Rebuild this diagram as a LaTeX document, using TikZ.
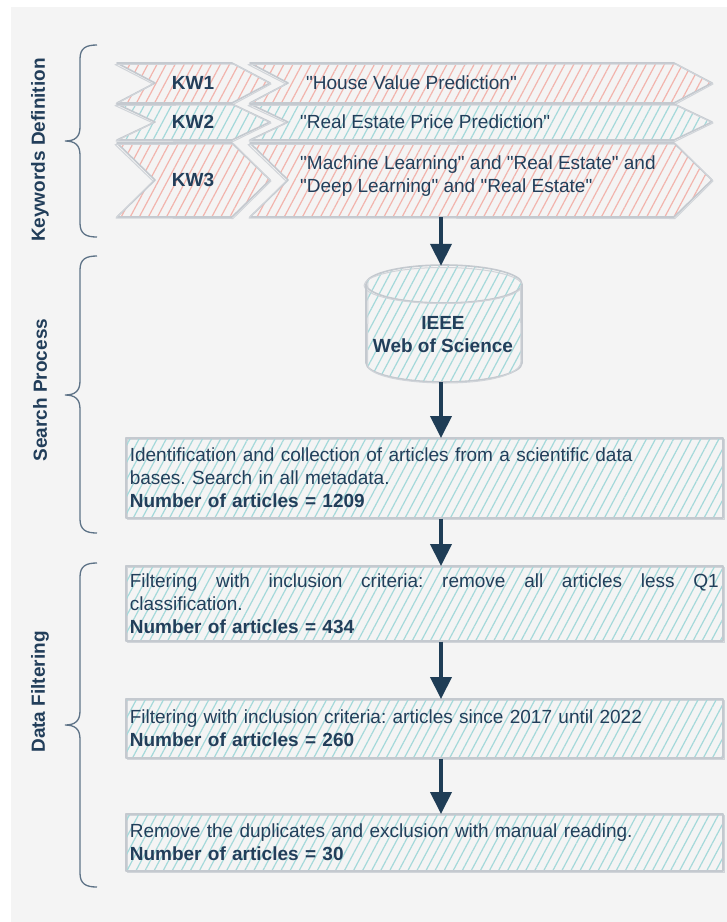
\documentclass[tikz,border=0pt]{standalone}
\usepackage{fontspec}
\setmainfont{Liberation Sans}
\usetikzlibrary{arrows.meta,patterns.meta}

\definecolor{bggray}{HTML}{F4F4F4}
\definecolor{outlinegray}{HTML}{C4C9CF}
\definecolor{hatchred}{HTML}{F2B4AD}
\definecolor{hatchteal}{HTML}{A4D9DA}
\definecolor{ink}{HTML}{223E5A}
\definecolor{arrowc}{HTML}{1F3D56}
\definecolor{bracec}{HTML}{5E7387}

\hyphenpenalty=10000
\exhyphenpenalty=10000
\frenchspacing
\newcommand\qq{\textquotedbl}

\tikzset{
  every node/.style={font=\fontsize{19}{23}\selectfont\frenchspacing, text=ink},
  redhatch/.style={pattern={Lines[angle=62,distance=8pt,line width=1.2pt]}, pattern color=hatchred},
  tealhatch/.style={pattern={Lines[angle=62,distance=8pt,line width=1.2pt]}, pattern color=hatchteal},
  sketchline/.style={draw=outlinegray, line width=1.6pt, line join=round},
  sketchline2/.style={draw=outlinegray!80, line width=1pt, line join=round},
  stepbox/.style={rectangle, tealhatch, sketchline, anchor=north west,
    minimum width=597pt, text width=589pt, inner xsep=4pt, inner ysep=2pt, align=left,
    preaction={draw=outlinegray!80, line width=1pt, transform canvas={xshift=1.3pt,yshift=-1.3pt}}},
  flow/.style={draw=arrowc, line width=4pt, -{Triangle[width=21pt,length=22pt]}, shorten >=-1pt},
  sectionlabel/.style={rotate=90, font=\fontsize{19}{23}\selectfont\bfseries},
  brace/.style={draw=bracec, line width=1.3pt},
}

% one arrow-like keyword band: style, left x, top-right x, top y, mid y, bottom y
\newcommand\kwpiece[6]{%
  \path[#1] (#2,#4) -- (#3,#4) -- ({#3+38},#5) -- (#3,#6) -- (#2,#6) -- ({#2+38},#5) -- cycle;
  \draw[sketchline] (#2,#4) -- (#3,#4) -- ({#3+38},#5) -- (#3,#6) -- (#2,#6) -- ({#2+38},#5) -- cycle;
  \draw[sketchline2] ({#2-2},{#4+1.5}) -- ({#3+2},{#4+1}) -- ({#3+39},{#5+1}) -- ({#3+1},{#6+1.5}) -- ({#2-1},{#6+1}) -- ({#2+36},{#5+1}) -- cycle;
}

% curly bracket on the left: top y, middle y, bottom y
\newcommand\sidebrace[3]{%
  \draw[brace] (97,#1) .. controls (86,#1) and (80,{#1+3}) .. (80,{#1+14})
    -- (80,{#2-14}) .. controls (80,{#2-4}) and (75,#2) .. (65,#2)
    .. controls (75,#2) and (80,{#2+4}) .. (80,{#2+14})
    -- (80,{#3-14}) .. controls (80,{#3-3}) and (86,#3) .. (97,#3);
}

\begin{document}
\begin{tikzpicture}[x=1pt,y=-1pt]
  \useasboundingbox (0,0) rectangle (727,922);
  \fill[white] (0,0) rectangle (727,922);
  \fill[bggray] (11,7) rectangle (727,922);

  % section brackets and labels
  \sidebrace{45}{141}{237}
  \sidebrace{256}{395}{533}
  \sidebrace{563}{725}{887}
  \node[sectionlabel] (lkw) at (40,150) {Keywords Definition};
  \node[sectionlabel] (lsp) at (40,390) {Search Process};
  \node[sectionlabel] (ldf) at (40,692) {Data Filtering};

  % keyword bands
  \kwpiece{redhatch}{117}{232}{63}{83}{103}
  \kwpiece{redhatch}{250}{674}{63}{83}{103}
  \kwpiece{tealhatch}{117}{232}{104}{122}{140}
  \kwpiece{tealhatch}{250}{674}{104}{122}{140}
  \kwpiece{redhatch}{117}{232}{143}{180}{217}
  \kwpiece{redhatch}{250}{674}{143}{180}{217}

  \node[font=\fontsize{19}{23}\selectfont\bfseries] (kw1) at (193,83) {KW1};
  \node[font=\fontsize{19}{23}\selectfont\bfseries] (kw2) at (193,122) {KW2};
  \node[font=\fontsize{19}{23}\selectfont\bfseries] (kw3) at (193,180) {KW3};
  \node[anchor=west, inner sep=0] (t1) at (306,83) {\qq House Value Prediction\qq};
  \node[anchor=west, inner sep=0] (t2) at (300,122) {\qq Real Estate Price Prediction\qq};
  \node[anchor=west, inner sep=0, align=left] (t3) at (300,176)
    {\qq Machine Learning\qq{} and \qq Real Estate\qq{} and\\\qq Deep Learning\qq{} and \qq Real Estate\qq};
  \coordinate (kw3bot) at (441,217);
  \coordinate (axis) at (441,0);

  % database cylinder
  \path[tealhatch] (366,284) -- (366,363) .. controls (366,373.5) and (401,382) .. (444,382)
    .. controls (487,382) and (522,373.5) .. (522,363) -- (522,284)
    .. controls (522,273.5) and (487,265) .. (444,265)
    .. controls (401,265) and (366,273.5) .. (366,284) -- cycle;
  \draw[sketchline] (444,284) ellipse[x radius=78, y radius=19];
  \draw[sketchline2] (443,285.5) ellipse[x radius=79, y radius=18];
  \draw[sketchline] (366,284) -- (366,363) .. controls (366,373.5) and (401,382) .. (444,382)
    .. controls (487,382) and (522,373.5) .. (522,363) -- (522,284);
  \draw[sketchline2] (368,282) -- (367.5,365) .. controls (368,375) and (402,383) .. (445,383)
    .. controls (488,383) and (521,375) .. (521,361) -- (520.5,286);
  \node[minimum width=156pt, minimum height=117pt, inner sep=0] (db) at (444,323.5) {};
  \node[align=center, font=\fontsize{19}{23}\selectfont\bfseries] (dbtext) at (443,335)
    {IEEE\\Web of Science};

  % process boxes
  \node[stepbox, minimum height=80pt] (b1) at (125,437)
    {Identification and collection of articles from a scientific data\\
     bases. Search in all metadata.\\
     \textbf{Number of articles = 1209}};
  \node[stepbox, minimum height=75pt] (b2) at (125,565)
    {\hbox to 589pt{Filtering\hfill with\hfill inclusion\hfill criteria:\hfill remove\hfill all\hfill articles\hfill less\hfill Q1}\\
     classification.\\
     \textbf{Number of articles = 434}};
  \node[stepbox, minimum height=59pt] (b3) at (125,698)
    {Filtering with inclusion criteria: articles since 2017 until 2022\\
     \textbf{Number of articles = 260}};
  \node[stepbox, minimum height=57pt] (b4) at (125,813)
    {Remove the duplicates and exclusion with manual reading.\\
     \textbf{Number of articles = 30}};

  % flow arrows
  \draw[flow] (kw3bot) -- (db.north -| axis);
  \draw[flow] (db.south -| axis) -- (b1.north -| axis);
  \draw[flow] (b1.south -| axis) -- (b2.north -| axis);
  \draw[flow] (b2.south -| axis) -- (b3.north -| axis);
  \draw[flow] (b3.south -| axis) -- (b4.north -| axis);
\end{tikzpicture}
\end{document}
